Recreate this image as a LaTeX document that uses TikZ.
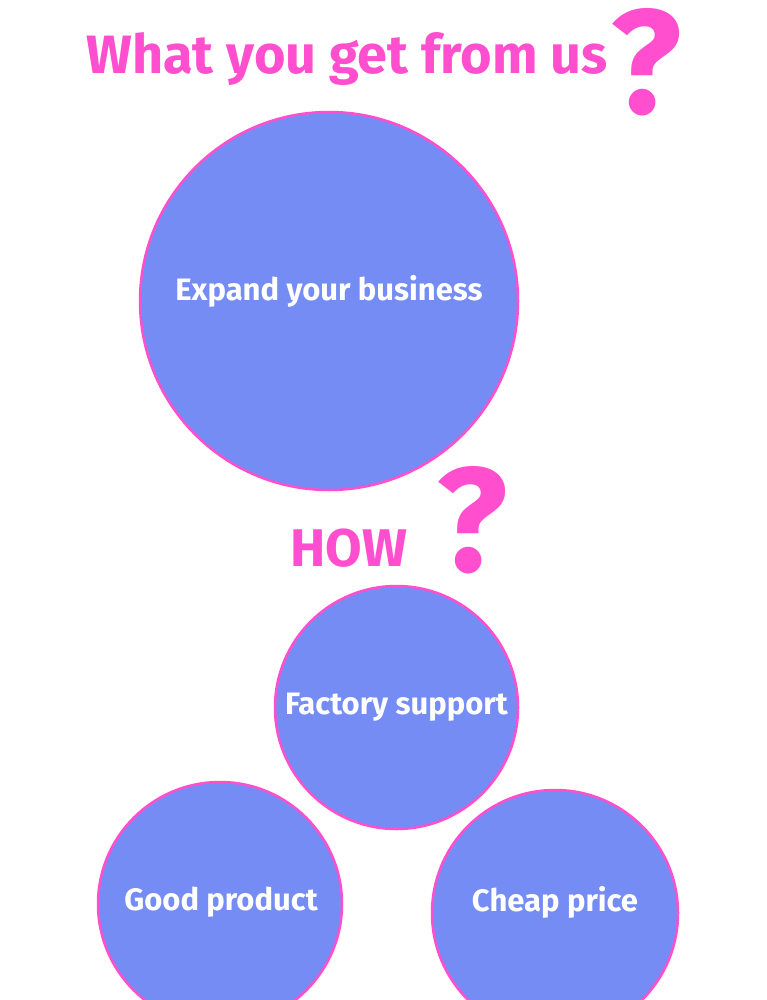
\documentclass[tikz,border=0pt]{standalone}
\usepackage{fontspec}
\setmainfont{Fira Sans}
\definecolor{pinkc}{RGB}{255,78,206}
\definecolor{bluec}{RGB}{117,140,245}
\begin{document}
\begin{tikzpicture}[x=1pt,y=-1pt,
  bubble/.style={circle,draw=pinkc,line width=2.5pt,fill=bluec,inner sep=0pt,minimum size=#1},
  ctext/.style={text=white,font=\fontsize{31}{34}\selectfont\bfseries},
  ptext/.style={text=pinkc,anchor=base}]
\useasboundingbox (0,0) rectangle (766,1000);
\clip (0,0) rectangle (766,1000);
\fill[white] (0,0) rectangle (766,1000);
\node[ptext,font=\fontsize{54}{58}\selectfont\bfseries] (title) at (347,74) {What you get from us};
\node[ptext,font=\fontsize{148}{150}\selectfont\bfseries] (q1) at (646,114) {?};
\node[bubble=378pt] (expand) at (329,301) {};
\node[ctext] (expandt) at (329,291) {Expand your business};
\node[ptext,font=\fontsize{53}{56}\selectfont\bfseries] (how) at (349,566) {HOW};
\node[ptext,font=\fontsize{148}{150}\selectfont\bfseries] (q2) at (472,571) {?};
\node[bubble=243pt] (factory) at (396.5,707.5) {};
\node[ctext] (factoryt) at (396.5,707) {Factory support};
\node[bubble=244pt] (good) at (220,904) {};
\node[ctext] (goodt) at (221,902) {Good product};
\node[bubble=246pt] (cheap) at (555,913) {};
\node[ctext] (cheapt) at (555,902) {Cheap price};
\end{tikzpicture}
\end{document}
